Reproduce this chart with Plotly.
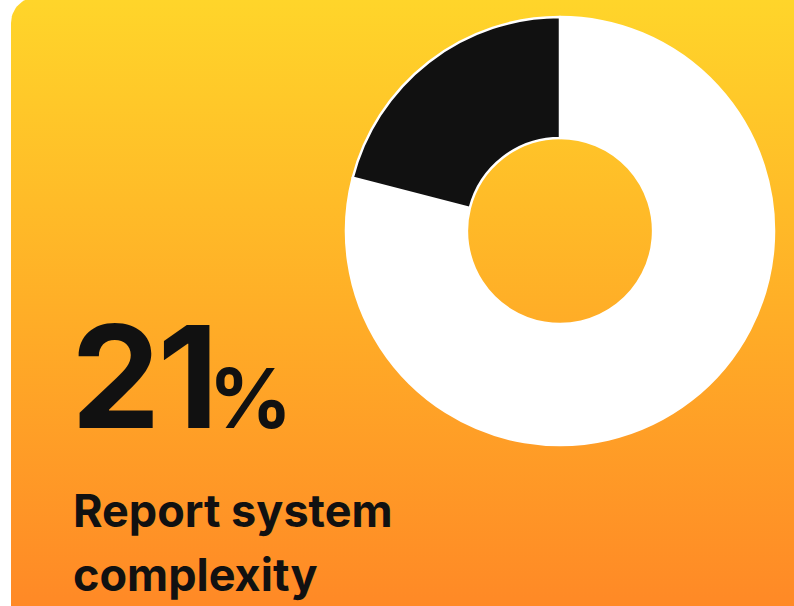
import plotly.graph_objects as go
import math

# ---- data ----
labels = ["Other", "Complex"]
values = [79, 21]
slice_colors = ["#ffffff", "#111111"]
big_number = "21"
big_unit = "%"
caption_lines = ["Report system", "complexity"]

W, H = 794, 606
grad_top = "#FFD52A"
grad_mid = "#FFAF27"
grad_bot = "#FF8926"

fig = go.Figure()

# card background: rounded top-left corner, vertical gradient
r = 26
left, top = 11, -3
xs, ys = [], []
for i in range(0, 19):
    a = math.pi + (math.pi / 2) * i / 18
    xs.append(left + r + r * math.cos(a))
    ys.append(top + r + r * math.sin(a))
xs += [W + 20, W + 20, left]
ys += [top, H + 20, H + 20]
xs.append(xs[0]); ys.append(ys[0])
fig.add_trace(go.Scatter(
    x=xs, y=ys, mode="lines", fill="toself",
    line=dict(width=0, color="rgba(0,0,0,0)"),
    fillgradient=dict(type="vertical", start=0, stop=H,
                      colorscale=[[0, grad_top], [0.5, grad_mid], [1, grad_bot]]),
    hoverinfo="skip", showlegend=False,
))

# donut
cx, cy, R = 560, 231, 214
fig.add_trace(go.Pie(
    labels=labels, values=values, sort=False, direction="clockwise",
    rotation=0, hole=0.435,
    marker=dict(colors=slice_colors, line=dict(color="#ffffff", width=2.5)),
    textinfo="none", hoverinfo="skip", showlegend=False,
    domain=dict(x=[(cx - R) / W, (cx + R) / W], y=[(H - (cy + R)) / H, (H - (cy - R)) / H]),
))

font_fam = "Inter"
fig.add_annotation(
    x=69, y=464, xref="x", yref="y", xanchor="left", yanchor="bottom",
    text="<span style='letter-spacing:-3px'>" + big_number[0] + "</span>"
         + "<span style='letter-spacing:-10px'>" + big_number[1] + "</span>"
         + "<span style='font-size:82px'>" + big_unit + "</span>",
    showarrow=False,
    font=dict(family=font_fam, size=142, color="#111111", weight=700),
)
fig.add_annotation(
    x=71, y=540, xref="x", yref="y", xanchor="left", yanchor="bottom",
    text=caption_lines[0], showarrow=False,
    font=dict(family=font_fam, size=45, color="#111111", weight=700),
)
fig.add_annotation(
    x=71, y=604, xref="x", yref="y", xanchor="left", yanchor="bottom",
    text=caption_lines[1], showarrow=False,
    font=dict(family=font_fam, size=45, color="#111111", weight=700),
)

fig.update_layout(
    width=W, height=H, margin=dict(l=0, r=0, t=0, b=0),
    paper_bgcolor="#ffffff", plot_bgcolor="#ffffff",
    xaxis=dict(range=[0, W], visible=False, fixedrange=True),
    yaxis=dict(range=[H, 0], visible=False, fixedrange=True),
)
fig.write_html("out.html", config={"displayModeBar": False})
